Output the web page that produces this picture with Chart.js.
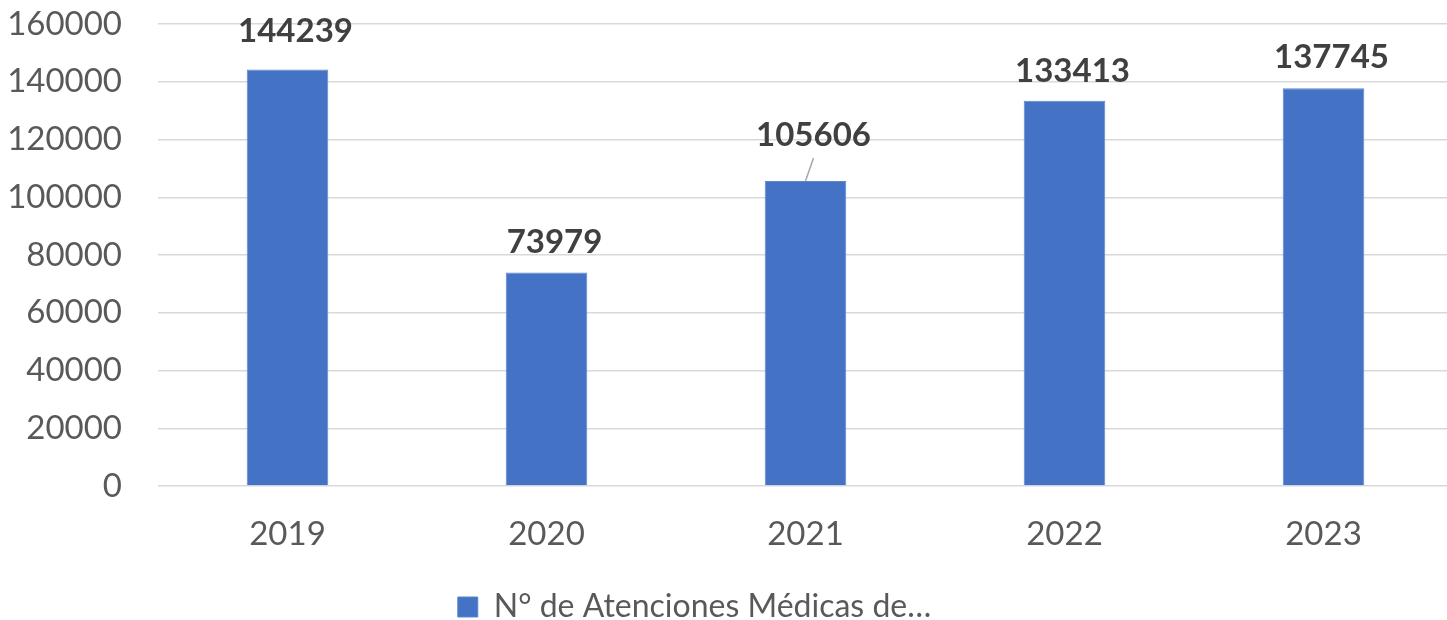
<!DOCTYPE html>
<html>
<head>
<meta charset="utf-8">
<script src="https://cdn.jsdelivr.net/npm/chart.js@4/dist/chart.umd.min.js"></script>
<style>
  html, body { margin: 0; padding: 0; background: #fff; overflow: hidden; }
  #wrap { width: 1454px; height: 620px; }
</style>
</head>
<body>
<div id="wrap"><canvas id="chart" width="1454" height="620"></canvas></div>
<script>
// Datos del gráfico
const anios = ['2019', '2020', '2021', '2022', '2023'];
const atenciones = [144239, 73979, 105606, 133413, 137745];
const etiquetaSerie = 'N° de Atenciones Médicas de…';
const ticksY = [0, 20000, 40000, 60000, 80000, 100000, 120000, 140000, 160000];

// Plugin para las etiquetas de valor sobre las barras
const etiquetasValor = {
    id: 'etiquetasValor',
    beforeDraw(chart, args, opts) {
        // la leyenda de Excel queda algo a la izquierda del centro
        const lg = chart.legend;
        if (lg && !lg._movida) {
            lg.left -= opts.legendShift;
            lg.right -= opts.legendShift;
            lg.top += opts.legendDrop;
            lg.bottom += opts.legendDrop;
            lg._movida = true;
        }
    },
    afterDatasetsDraw(chart, args, opts) {
        const ctx = chart.ctx;
        const meta = chart.getDatasetMeta(0);
        ctx.save();
        ctx.font = 'bold 33px Lato';
        ctx.fillStyle = '#404040';
        ctx.textAlign = 'center';
        ctx.textBaseline = 'middle';
        meta.data.forEach((bar, i) => {
            const lift = opts.lift[i] || 30;
            const x = bar.x + 8;
            const y = bar.y - lift;
            ctx.fillText(atenciones[i].toString(), x, y);
            if (opts.leader[i]) {
                ctx.strokeStyle = '#a6a6a6';
                ctx.lineWidth = 1.5;
                ctx.beginPath();
                ctx.moveTo(x, y + 23);
                ctx.lineTo(bar.x, bar.y);
                ctx.stroke();
            }
        });
        ctx.restore();
    }
};

new Chart(document.getElementById('chart').getContext('2d'), {
    type: 'bar',
    data: {
        labels: anios,
        datasets: [{
            label: etiquetaSerie,
            data: atenciones,
            backgroundColor: '#4472C4',
            borderColor: '#5b86d0',
            borderWidth: 1,
            barPercentage: 0.315,
            categoryPercentage: 1
        }]
    },
    options: {
        responsive: false,
        animation: false,
        layout: { padding: { top: 24, right: 1, left: 0, bottom: 0 } },
        scales: {
            y: {
                min: 0,
                max: 160000,
                afterBuildTicks: s => { s.ticks = ticksY.map(v => ({ value: v })); },
                afterFit: s => { s.width = 158; s.paddingTop = 0; s.paddingBottom = 0; },
                border: { display: false },
                grid: { color: '#d9d9d9', lineWidth: 1.5, drawTicks: false },
                ticks: {
                    padding: 36,
                    color: '#595959',
                    font: { family: 'Lato', size: 33 },
                    callback: v => String(v)
                }
            },
            x: {
                afterFit: s => { s.height = 80; s.paddingLeft = 0; s.paddingRight = 0; },
                border: { display: false },
                grid: { display: false },
                ticks: {
                    padding: 21,
                    color: '#595959',
                    font: { family: 'Lato', size: 33 }
                }
            }
        },
        plugins: {
            legend: {
                position: 'bottom',
                labels: {
                    boxWidth: 20,
                    boxHeight: 20,
                    padding: 12,
                    color: '#595959',
                    font: { family: 'Lato', size: 32 }
                }
            },
            tooltip: { enabled: false },
            etiquetasValor: {
                lift: [38, 30, 46, 29, 31],
                leader: [false, false, true, false, false],
                legendShift: 32,
                legendDrop: 13
            }
        }
    },
    plugins: [etiquetasValor]
});
</script>
</body>
</html>
